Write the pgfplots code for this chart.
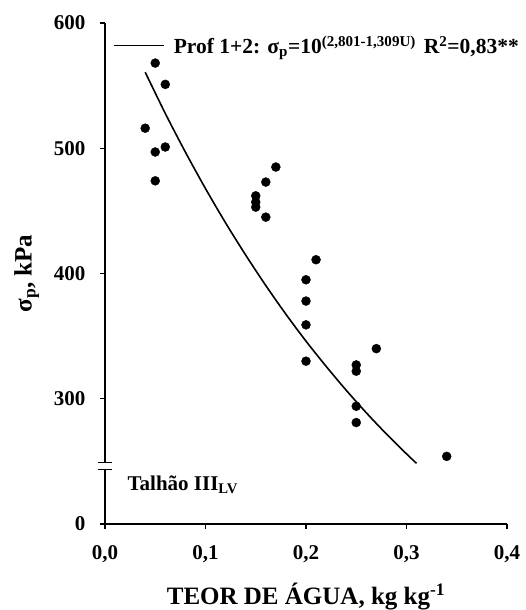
\documentclass[border=0pt]{standalone}
\usepackage{fontspec}
\setmainfont{Liberation Serif}
\usepackage{pgfplots}
\pgfplotsset{compat=1.18}
\begin{document}
\begin{tikzpicture}
\begin{axis}[
  scale only axis,
  width=402bp, height=501bp,
  xmin=0, xmax=0.4, ymin=200, ymax=600,
  axis lines*=left,
  axis line style={line width=1.6bp},
  xtick={0,0.1,0.2,0.3,0.4},
  xticklabels={{0,0},{0,1},{0,2},{0,3},{0,4}},
  ytick={200,300,400,500,600},
  yticklabels={0,300,400,500,600},
  tick align=outside,
  major tick length=5bp,
  tick style={line width=1.2bp, black},
  ticklabel style={font=\fontsize{21bp}{24bp}\selectfont\bfseries},
  xticklabel style={yshift=-13bp},
  yticklabel style={xshift=-11bp},
  /pgf/number format/assume math mode=true,
  xlabel={TEOR DE ÁGUA, kg kg\textsuperscript{-1}},
  ylabel={σ\textsubscript{p}, kPa},
  label style={font=\fontsize{25bp}{28bp}\selectfont\bfseries},
  xlabel style={yshift=-13bp},
  ylabel style={yshift=8bp},
  legend style={draw=none, fill=none, at={(axis description cs:0.02,0.955)}, anchor=west,
    font=\fontsize{21.5bp}{24bp}\selectfont\bfseries, inner sep=0pt},
  legend cell align=left,
  legend image code/.code={\draw[line width=1.6bp] (0bp,0bp) -- (50bp,0bp);},
  clip=false,
]
\addplot[only marks, mark=*, mark size=4.5bp, black, forget plot] coordinates {
(0.05,568) (0.06,551) (0.04,516) (0.06,501) (0.05,497) (0.05,474)
(0.17,485) (0.16,473) (0.15,462) (0.15,457) (0.15,453) (0.16,445)
(0.21,411) (0.20,395) (0.20,378) (0.20,359) (0.20,330)
(0.27,340) (0.25,327) (0.25,322) (0.25,294) (0.25,281) (0.34,254)
};
\addplot[line width=1.6bp, black, smooth] coordinates {
(0.04,560.7) (0.06,527.8) (0.08,496.9) (0.10,467.8) (0.12,440.4) (0.14,414.7)
(0.16,390.4) (0.18,367.5) (0.20,346.0) (0.22,325.9) (0.24,306.8) (0.26,288.8)
(0.28,271.9) (0.30,256.0) (0.31,248.4)
};
\addlegendentry{\hspace{7bp}Prof 1+2: σ\textsubscript{p}=10\textsuperscript{(2,801-1,309U)}\hspace{8bp}R\textsuperscript{2}=0,83**}
\node[anchor=base west, font=\fontsize{21bp}{24bp}\selectfont\bfseries] at (axis cs:0.019,227) {Talhão III\textsubscript{LV}};
\path (axis cs:0,243.5) coordinate (b1) (axis cs:0,249) coordinate (b2);
\end{axis}
\fill[white] ([xshift=-3bp]b1) rectangle ([xshift=3bp]b2);
\draw[line width=1.2bp] ([xshift=-7bp]b1) -- ([xshift=7bp]b1);
\draw[line width=1.2bp] ([xshift=-7bp]b2) -- ([xshift=7bp]b2);
\pgfresetboundingbox
\path ([shift={(-105bp,-86bp)}]current axis.south west) rectangle ([shift={(19bp,23bp)}]current axis.north east);
\end{tikzpicture}
\end{document}
